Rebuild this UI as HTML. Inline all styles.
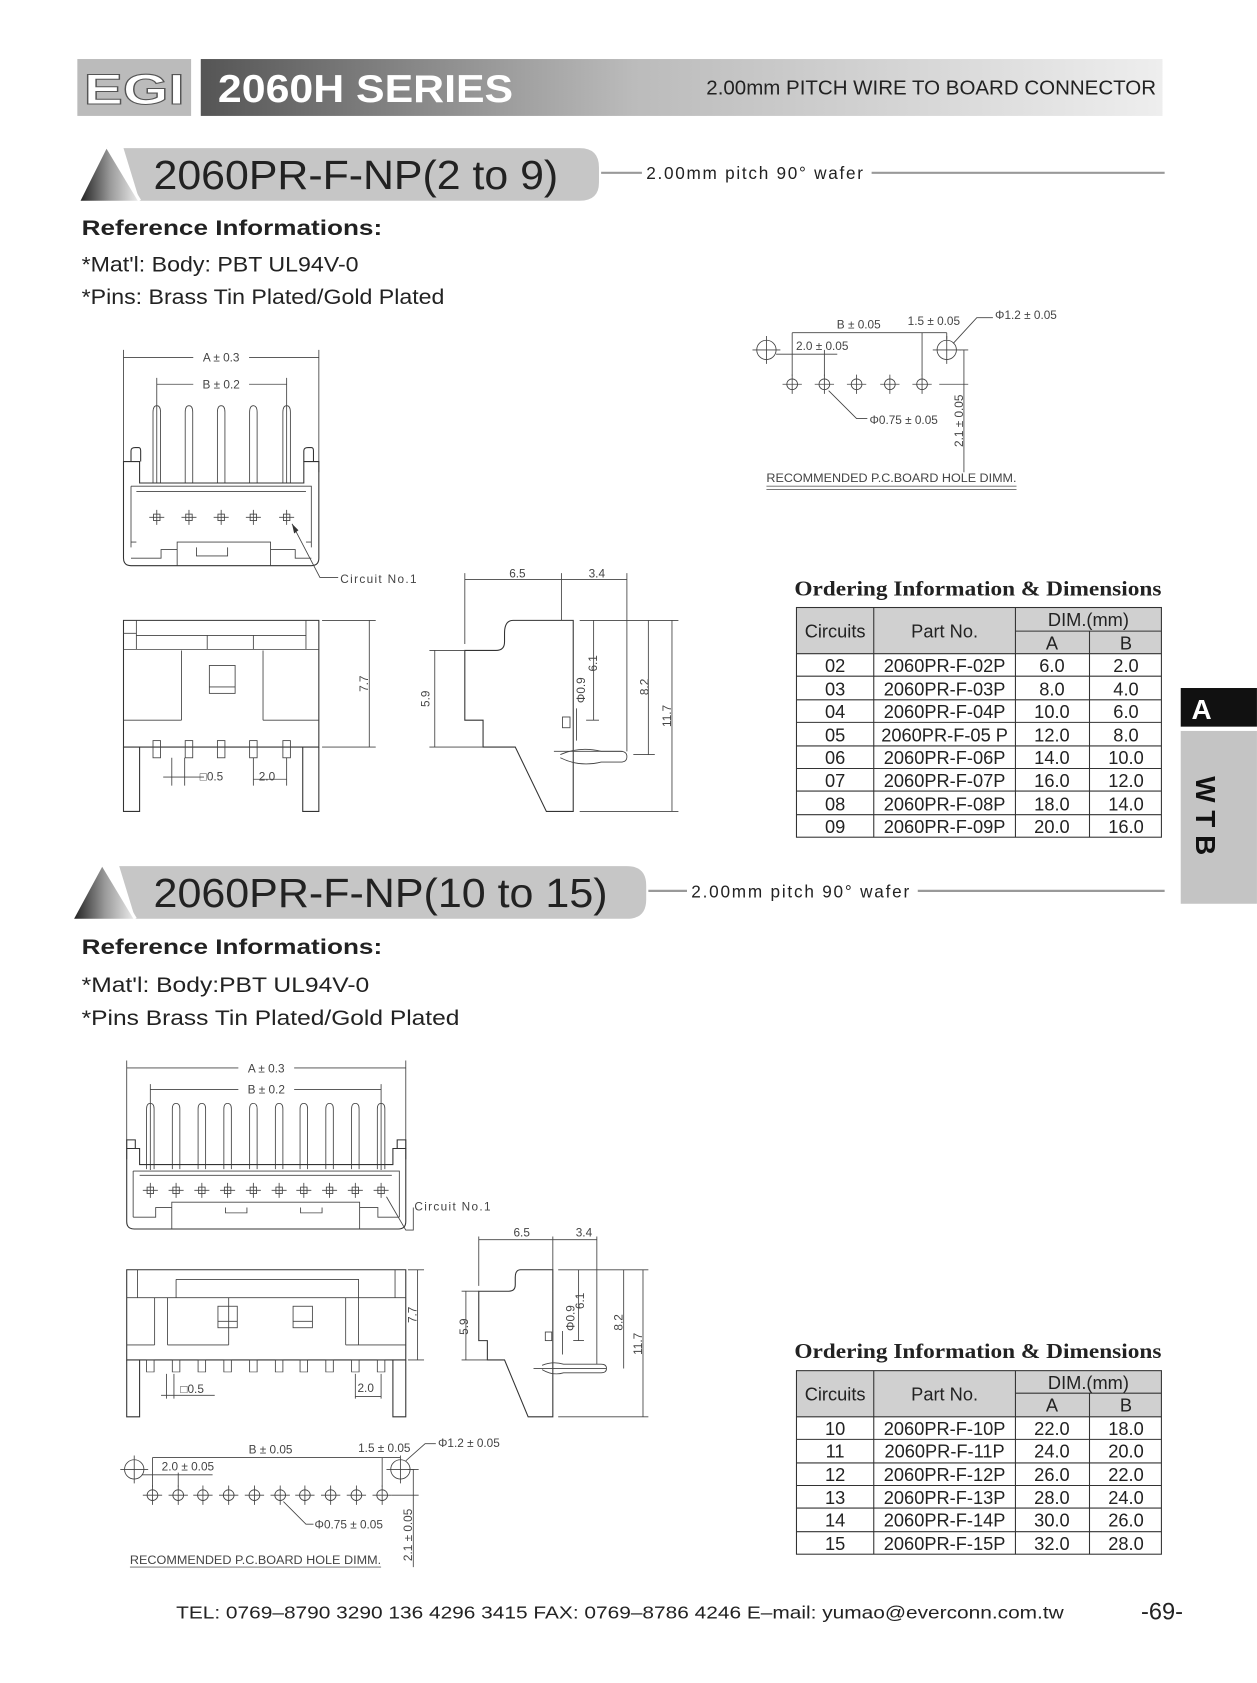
<!DOCTYPE html>
<html><head><meta charset="utf-8"><style>
html,body{margin:0;padding:0;background:#fff}
svg{display:block}
text{font-family:"Liberation Sans",sans-serif;fill:#222}
.s{fill:none;stroke:#333;stroke-width:1}
.t{stroke:#444;stroke-width:.8;fill:none}
.d{font-size:11px;fill:#444}
</style></head><body>
<svg width="1257" height="1683" viewBox="0 0 1171 1568" xmlns="http://www.w3.org/2000/svg">
<defs>
<linearGradient id="g1" x1="0" x2="1"><stop offset="0" stop-color="#555"/><stop offset=".45" stop-color="#bbb"/><stop offset="1" stop-color="#eee"/></linearGradient>
<linearGradient id="g2" x1="0" x2="1"><stop offset="0" stop-color="#222"/><stop offset=".5" stop-color="#999"/><stop offset="1" stop-color="#eee"/></linearGradient>
<g id="h"><circle r="5" class="t"/><path d="M-9 0H9M0 -9V9" class="t"/></g>
<g id="H"><circle r="9" class="t"/><path d="M-13 0H13M0 -13V13" class="t"/></g>
<g id="pm"><rect x="-3" y="-3" width="6" height="6" class="t"/><path d="M-7 0H7M0 -7V7" class="t"/></g>
<g id="pt"><path d="M-3.5 72V6Q-3.5 0 0 0Q3.5 0 3.5 6V72" class="t"/></g>
<g id="pf"><rect x="-3.5" y="0" width="7" height="16" class="t"/></g>
</defs>

<!-- header -->
<rect x="72" y="55" width="106" height="53" fill="#bbb"/>
<text x="78" y="97" font-size="40" font-weight="bold" style="fill:#fff;stroke:#555;stroke-width:1" textLength="94" lengthAdjust="spacingAndGlyphs">EGI</text>
<rect x="187" y="55" width="896" height="53" fill="url(#g1)"/>
<text x="203" y="95" font-size="36" font-weight="bold" style="fill:#fff" textLength="275" lengthAdjust="spacingAndGlyphs">2060H SERIES</text>
<text x="1077" y="88" font-size="19" text-anchor="end" style="fill:#222" textLength="419" lengthAdjust="spacingAndGlyphs">2.00mm PITCH WIRE TO BOARD CONNECTOR</text>

<!-- section 1 title -->
<path d="M75 187L100 137L130 187Z" fill="url(#g2)"/>
<path d="M115 138H540Q558 138 558 156V170Q558 187 540 187H130Z" fill="#c6c6c6"/>
<path d="M100 137L130 187" stroke="#fff" stroke-width="3"/>
<text x="143" y="176" font-size="38" textLength="377" lengthAdjust="spacingAndGlyphs">2060PR-F-NP(2 to 9)</text>
<path d="M560 161H598M812 161H1085" stroke="#999" stroke-width="2"/>
<text x="602" y="167" font-size="16" textLength="202" lengthAdjust="spacing">2.00mm pitch 90° wafer</text>
<text x="76" y="219" font-size="20" font-weight="bold" textLength="280" lengthAdjust="spacingAndGlyphs">Reference Informations:</text>
<text x="76" y="253" font-size="20" textLength="258" lengthAdjust="spacingAndGlyphs">*Mat'l: Body: PBT UL94V-0</text>
<text x="76" y="283" font-size="20" textLength="338" lengthAdjust="spacingAndGlyphs">*Pins: Brass Tin Plated/Gold Plated</text>

<!-- section 1 top view -->
<g>
<path d="M115 326V440M297 326V440M146 352V450M267 352V450" class="t"/>
<path d="M115 333H180M232 333H297M146 358H180M232 358H267" class="t"/>
<text x="206" y="337" class="d" text-anchor="middle">A ± 0.3</text>
<text x="206" y="362" class="d" text-anchor="middle">B ± 0.2</text>
<use href="#pt" x="146" y="378"/><use href="#pt" x="176" y="378"/><use href="#pt" x="206" y="378"/><use href="#pt" x="236" y="378"/><use href="#pt" x="267" y="378"/>
<path d="M122 430V420Q122 417 126 417H129Q131 417 131 420V430M283 430V420Q283 417 287 417H290Q292 417 292 420V430" class="s"/>
<path d="M115 430H130V450H283V430H297V520Q297 527 290 527H122Q115 527 115 520Z" class="s"/>
<path d="M122 453H290V510M122 453V510M127 458H285M122 505H127M290 505H285" class="t"/>
<path d="M122 520H150V512H165V505H252V512H275V520H290M165 505V527M252 505V527M183 510V518H212V510" class="t"/>
<use href="#pm" x="146" y="482"/><use href="#pm" x="176" y="482"/><use href="#pm" x="206" y="482"/><use href="#pm" x="236" y="482"/><use href="#pm" x="267" y="482"/>
<path d="M272 488L298 538H315" class="t"/><path d="M272 488L274 497L278 494Z" fill="#333"/>
<text x="317" y="543" class="d" font-size="12" textLength="71" lengthAdjust="spacing">Circuit No.1</text>
</g>

<!-- section 1 front view -->
<g>
<path d="M115 578H297V696H115Z" class="s"/>
<path d="M115 605H297M127 578V605M285 578V605M115 590L127 590M193 592V605M236 592V605M193 592H236M127 592H193M236 592H285" class="t"/>
<path d="M169 606V671M245 606V671M115 671H169M245 671H297" class="t"/>
<rect x="195" y="620" width="24" height="26" class="t"/><path d="M195 640H219" class="t"/>
<path d="M115 696V756H130V696M282 696V756H297V696" class="s"/>
<use href="#pf" x="146" y="690"/><use href="#pf" x="176" y="690"/><use href="#pf" x="206" y="690"/><use href="#pf" x="236" y="690"/><use href="#pf" x="267" y="690"/>
<path d="M160 706V732M172 706V732M152 724H190M236 706V732M267 706V732M236 726H267" class="t"/>
<text x="186" y="727" class="d" font-size="12">□0.5</text>
<text x="241" y="727" class="d" font-size="12">2.0</text>
<path d="M300 578H350M300 696H350M344 578V696" class="t"/>
<text x="343" y="637" class="d" font-size="12" transform="rotate(-90 343 637)" text-anchor="middle">7.7</text>
</g>

<!-- section 1 side view -->
<g>
<path d="M433 606V671H450V696H480L509 756H534V578H478Q470 578 470 590V598Q470 606 462 606Z" class="s"/>
<path d="M522 703Q540 695 560 700H578Q584 700 584 705Q584 710 578 710H560Q540 715 522 706" class="t"/>
<path d="M516 700H580" class="t"/>
<rect x="524" y="668" width="7" height="10" class="t"/>
<path d="M433 534V600M523 534V578M584 534V700M433 540H584" class="t"/>
<text x="482" y="538" class="d" font-size="12" text-anchor="middle">6.5</text>
<text x="556" y="538" class="d" font-size="12" text-anchor="middle">3.4</text>
<path d="M400 606H433M400 696H450M405 606V696" class="t"/>
<text x="400" y="651" class="d" font-size="12" transform="rotate(-90 400 651)" text-anchor="middle">5.9</text>
<path d="M553 578V671M546 671H558M537 660V690" class="t"/>
<text x="556" y="618" class="d" font-size="12" transform="rotate(-90 556 618)" text-anchor="middle">6.1</text>
<text x="545" y="643" class="d" font-size="12" transform="rotate(-90 545 643)" text-anchor="middle">Φ0.9</text>
<path d="M540 578H632M604 578V703M590 703H610M626 578V756M540 756H632" class="t"/>
<text x="604" y="640" class="d" font-size="12" transform="rotate(-90 604 640)" text-anchor="middle">8.2</text>
<text x="625" y="667" class="d" font-size="12" transform="rotate(-90 625 667)" text-anchor="middle">11.7</text>
</g>

<!-- PCB 1 -->
<g>
<use href="#H" x="714" y="326"/><use href="#H" x="882" y="326"/>
<use href="#h" x="738" y="358"/><use href="#h" x="768" y="358"/><use href="#h" x="798" y="358"/><use href="#h" x="829" y="358"/><use href="#h" x="859" y="358"/>
<path d="M738 310V350M768 326V350M859 310V350M738 310H882M723 330H780M882 310V316" class="t"/>
<text x="800" y="306" class="d" font-size="11.5" text-anchor="middle">B ± 0.05</text>
<text x="870" y="303" class="d" font-size="11.5" text-anchor="middle">1.5 ± 0.05</text>
<text x="766" y="326" class="d" font-size="11.5" text-anchor="middle">2.0 ± 0.05</text>
<path d="M888 320L910 296H925" class="t"/>
<text x="927" y="297" class="d" font-size="11.5">Φ1.2 ± 0.05</text>
<path d="M894 326H902M875 358H902M898 326V440" class="t"/>
<text x="897" y="392" class="d" font-size="11.5" transform="rotate(-90 897 392)" text-anchor="middle">2.1 ± 0.05</text>
<path d="M772 364L798 390H808" class="t"/>
<text x="810" y="395" class="d" font-size="11.5">Φ0.75 ± 0.05</text>
<text x="714" y="449" font-size="11.5" style="fill:#444" textLength="233" lengthAdjust="spacingAndGlyphs">RECOMMENDED P.C.BOARD HOLE DIMM.</text>
<path d="M714 453H947M714 456H947" stroke="#666" stroke-width=".8"/>
</g>

<!-- Table 1 -->
<text x="740" y="555" font-size="20" style="font-family:'Liberation Serif',serif" font-weight="bold" textLength="342" lengthAdjust="spacingAndGlyphs">Ordering Information &amp; Dimensions</text>
<rect x="742" y="566" width="340" height="43" fill="#d0d0d0"/>
<g stroke="#333" stroke-width="1" fill="none">
<rect x="742" y="566" width="340" height="214"/>
<path d="M946 588H1082M742 609H1082M742 630H1082M742 652H1082M742 673H1082M742 695H1082M742 716H1082M742 737H1082M742 759H1082"/>
<path d="M814 566V780M946 566V780M1015 588V780"/>
</g>
<g font-size="17" text-anchor="middle">
<text x="778" y="594">Circuits</text><text x="880" y="594">Part No.</text><text x="1014" y="583">DIM.(mm)</text><text x="980" y="605">A</text><text x="1049" y="605">B</text>
<text x="778" y="626">02</text><text x="880" y="626">2060PR-F-02P</text><text x="980" y="626">6.0</text><text x="1049" y="626">2.0</text>
<text x="778" y="648">03</text><text x="880" y="648">2060PR-F-03P</text><text x="980" y="648">8.0</text><text x="1049" y="648">4.0</text>
<text x="778" y="669">04</text><text x="880" y="669">2060PR-F-04P</text><text x="980" y="669">10.0</text><text x="1049" y="669">6.0</text>
<text x="778" y="691">05</text><text x="880" y="691">2060PR-F-05 P</text><text x="980" y="691">12.0</text><text x="1049" y="691">8.0</text>
<text x="778" y="712">06</text><text x="880" y="712">2060PR-F-06P</text><text x="980" y="712">14.0</text><text x="1049" y="712">10.0</text>
<text x="778" y="733">07</text><text x="880" y="733">2060PR-F-07P</text><text x="980" y="733">16.0</text><text x="1049" y="733">12.0</text>
<text x="778" y="755">08</text><text x="880" y="755">2060PR-F-08P</text><text x="980" y="755">18.0</text><text x="1049" y="755">14.0</text>
<text x="778" y="776">09</text><text x="880" y="776">2060PR-F-09P</text><text x="980" y="776">20.0</text><text x="1049" y="776">16.0</text>
</g>

<!-- side tab -->
<rect x="1100" y="641" width="71" height="36" fill="#111"/>
<text x="1110" y="670" font-size="26" font-weight="bold" style="fill:#fff">A</text>
<rect x="1100" y="681" width="71" height="161" fill="#c4c4c4"/>
<text x="1114" y="760" font-size="26" font-weight="bold" transform="rotate(90 1114 760)" text-anchor="middle" style="fill:#111">W T B</text>

<!-- section 2 title -->
<path d="M69 856L96 806L126 856Z" fill="url(#g2)"/>
<path d="M111 807H584Q602 807 602 825V838Q602 856 584 856H126Z" fill="#c6c6c6"/>
<path d="M96 806L126 856" stroke="#fff" stroke-width="3"/>
<text x="143" y="845" font-size="38" textLength="423" lengthAdjust="spacingAndGlyphs">2060PR-F-NP(10 to 15)</text>
<path d="M604 830H640M855 830H1085" stroke="#999" stroke-width="2"/>
<text x="644" y="836" font-size="16" textLength="203" lengthAdjust="spacing">2.00mm pitch 90° wafer</text>
<text x="76" y="889" font-size="20" font-weight="bold" textLength="280" lengthAdjust="spacingAndGlyphs">Reference Informations:</text>
<text x="76" y="924" font-size="20" textLength="268" lengthAdjust="spacingAndGlyphs">*Mat'l: Body:PBT UL94V-0</text>
<text x="76" y="955" font-size="20" textLength="352" lengthAdjust="spacingAndGlyphs">*Pins Brass Tin Plated/Gold Plated</text>

<!-- section 2 top view -->
<g>
<path d="M118 988V1080M378 988V1080M140 1010V1090M355 1010V1090" class="t"/>
<path d="M118 995H222M274 995H378M140 1015H222M274 1015H355" class="t"/>
<text x="248" y="999" class="d" text-anchor="middle">A ± 0.3</text>
<text x="248" y="1019" class="d" text-anchor="middle">B ± 0.2</text>
<g transform="translate(0,1028) scale(1,0.85)"><use href="#pt" x="140"/><use href="#pt" x="164"/><use href="#pt" x="188"/><use href="#pt" x="212"/><use href="#pt" x="236"/><use href="#pt" x="260"/><use href="#pt" x="283"/><use href="#pt" x="307"/><use href="#pt" x="331"/><use href="#pt" x="355"/></g>
<path d="M118 1070V1062H126V1070M370 1070V1062H378V1070" class="s"/>
<path d="M118 1070H130V1085H366V1070H378V1138Q378 1145 371 1145H125Q118 1145 118 1138Z" class="s"/>
<path d="M124 1091H372V1134M124 1091V1134M130 1095H365" class="t"/>
<path d="M124 1134H145V1125H160V1120H335V1125H352V1134H372M160 1120V1145M335 1120V1145M210 1125V1130H230V1125M280 1125V1130H300V1125" class="t"/>
<use href="#pm" x="140" y="1109"/><use href="#pm" x="164" y="1109"/><use href="#pm" x="188" y="1109"/><use href="#pm" x="212" y="1109"/><use href="#pm" x="236" y="1109"/><use href="#pm" x="260" y="1109"/><use href="#pm" x="283" y="1109"/><use href="#pm" x="307" y="1109"/><use href="#pm" x="331" y="1109"/><use href="#pm" x="355" y="1109"/>
<path d="M360 1115L378 1146H385V1125" class="t"/>
<text x="386" y="1128" class="d" font-size="12" textLength="71" lengthAdjust="spacing">Circuit No.1</text>
</g>

<!-- section 2 front view -->
<g>
<path d="M118 1183H378V1267H118Z" class="s"/>
<path d="M118 1209H378M128 1183V1209M368 1183V1209M164 1192H334V1209M164 1192V1209" class="t"/>
<path d="M144 1209V1253M156 1209V1253M213 1209V1253M322 1209V1253M334 1209V1253M118 1253H144M156 1253H213M322 1253H334M334 1253H378" class="t"/>
<rect x="203" y="1217" width="18" height="20" class="t"/><path d="M203 1231H221" class="t"/>
<rect x="273" y="1217" width="18" height="20" class="t"/><path d="M273 1231H291" class="t"/>
<path d="M118 1267V1320H130V1267M366 1267V1320H378V1267" class="s"/>
<g transform="translate(0,1267) scale(1,.7)"><use href="#pf" x="140"/><use href="#pf" x="164"/><use href="#pf" x="188"/><use href="#pf" x="212"/><use href="#pf" x="236"/><use href="#pf" x="260"/><use href="#pf" x="283"/><use href="#pf" x="307"/><use href="#pf" x="331"/><use href="#pf" x="355"/></g>
<path d="M155 1280V1303M162 1280V1303M150 1300H200M331 1280V1303M355 1280V1303M331 1301H355" class="t"/>
<text x="168" y="1298" class="d" font-size="12">□0.5</text>
<text x="333" y="1297" class="d" font-size="12">2.0</text>
<path d="M380 1183H395M380 1267H395M389 1183V1267" class="t"/>
<text x="388" y="1225" class="d" font-size="12" transform="rotate(-90 388 1225)" text-anchor="middle">7.7</text>
</g>

<!-- section 2 side view -->
<g>
<path d="M446 1203V1249H454V1267H470L492 1320H515V1183H485Q480 1183 480 1190V1197Q480 1203 474 1203Z" class="s"/>
<path d="M505 1272Q515 1268 525 1271H560Q565 1271 565 1275Q565 1279 560 1279H525Q515 1282 505 1276M497 1275H565" class="t"/>
<rect x="508" y="1241" width="6" height="8" class="t"/>
<path d="M446 1152V1198M515 1152V1183M556 1152V1271M446 1155H556" class="t"/>
<text x="486" y="1152" class="d" font-size="12" text-anchor="middle">6.5</text>
<text x="544" y="1152" class="d" font-size="12" text-anchor="middle">3.4</text>
<path d="M430 1203H446M430 1267H454M434 1203V1267" class="t"/>
<text x="436" y="1236" class="d" font-size="12" transform="rotate(-90 436 1236)" text-anchor="middle">5.9</text>
<path d="M539 1183V1249M534 1249H544M524 1240V1262" class="t"/>
<text x="544" y="1212" class="d" font-size="12" transform="rotate(-90 544 1212)" text-anchor="middle">6.1</text>
<text x="535" y="1228" class="d" font-size="12" transform="rotate(-90 535 1228)" text-anchor="middle">Φ0.9</text>
<path d="M520 1183H604M581 1183V1275M599 1183V1320M520 1320H604" class="t"/>
<text x="580" y="1232" class="d" font-size="12" transform="rotate(-90 580 1232)" text-anchor="middle">8.2</text>
<text x="598" y="1252" class="d" font-size="12" transform="rotate(-90 598 1252)" text-anchor="middle">11.7</text>
</g>

<!-- PCB 2 -->
<g>
<use href="#H" x="125" y="1369"/><use href="#H" x="373" y="1369"/>
<use href="#h" x="142" y="1393"/><use href="#h" x="166" y="1393"/><use href="#h" x="189" y="1393"/><use href="#h" x="213" y="1393"/><use href="#h" x="237" y="1393"/><use href="#h" x="261" y="1393"/><use href="#h" x="284" y="1393"/><use href="#h" x="308" y="1393"/><use href="#h" x="332" y="1393"/><use href="#h" x="356" y="1393"/>
<path d="M142 1358V1385M166 1372V1385M356 1358V1385M142 1358H373M132 1374H198" class="t"/>
<text x="252" y="1354" class="d" font-size="11.5" text-anchor="middle">B ± 0.05</text>
<text x="358" y="1353" class="d" font-size="11.5" text-anchor="middle">1.5 ± 0.05</text>
<text x="175" y="1370" class="d" font-size="11.5" text-anchor="middle">2.0 ± 0.05</text>
<path d="M378 1361L396 1345H406" class="t"/>
<text x="408" y="1348" class="d" font-size="11.5">Φ1.2 ± 0.05</text>
<path d="M380 1369H390M365 1393H390M385 1369V1460" class="t"/>
<text x="384" y="1430" class="d" font-size="11.5" transform="rotate(-90 384 1430)" text-anchor="middle">2.1 ± 0.05</text>
<path d="M264 1399L285 1420H292" class="t"/>
<text x="293" y="1424" class="d" font-size="11.5">Φ0.75 ± 0.05</text>
<text x="121" y="1457" font-size="11.5" style="fill:#444" textLength="234" lengthAdjust="spacingAndGlyphs">RECOMMENDED P.C.BOARD HOLE DIMM.</text>
<path d="M121 1460H355" stroke="#666" stroke-width=".8"/>
</g>

<!-- Table 2 -->
<text x="740" y="1265" font-size="20" style="font-family:'Liberation Serif',serif" font-weight="bold" textLength="342" lengthAdjust="spacingAndGlyphs">Ordering Information &amp; Dimensions</text>
<rect x="742" y="1277" width="340" height="43" fill="#d0d0d0"/>
<g stroke="#333" stroke-width="1" fill="none">
<rect x="742" y="1277" width="340" height="171"/>
<path d="M946 1298H1082M742 1320H1082M742 1341H1082M742 1363H1082M742 1384H1082M742 1405H1082M742 1427H1082"/>
<path d="M814 1277V1448M946 1277V1448M1015 1298V1448"/>
</g>
<g font-size="17" text-anchor="middle">
<text x="778" y="1305">Circuits</text><text x="880" y="1305">Part No.</text><text x="1014" y="1294">DIM.(mm)</text><text x="980" y="1315">A</text><text x="1049" y="1315">B</text>
<text x="778" y="1337">10</text><text x="880" y="1337">2060PR-F-10P</text><text x="980" y="1337">22.0</text><text x="1049" y="1337">18.0</text>
<text x="778" y="1358">11</text><text x="880" y="1358">2060PR-F-11P</text><text x="980" y="1358">24.0</text><text x="1049" y="1358">20.0</text>
<text x="778" y="1380">12</text><text x="880" y="1380">2060PR-F-12P</text><text x="980" y="1380">26.0</text><text x="1049" y="1380">22.0</text>
<text x="778" y="1401">13</text><text x="880" y="1401">2060PR-F-13P</text><text x="980" y="1401">28.0</text><text x="1049" y="1401">24.0</text>
<text x="778" y="1422">14</text><text x="880" y="1422">2060PR-F-14P</text><text x="980" y="1422">30.0</text><text x="1049" y="1422">26.0</text>
<text x="778" y="1444">15</text><text x="880" y="1444">2060PR-F-15P</text><text x="980" y="1444">32.0</text><text x="1049" y="1444">28.0</text>
</g>

<!-- footer -->
<text x="164" y="1508" font-size="16" textLength="827" lengthAdjust="spacingAndGlyphs">TEL: 0769–8790 3290  136 4296 3415   FAX: 0769–8786 4246   E–mail: yumao@everconn.com.tw</text>
<text x="1063" y="1509" font-size="22">-69-</text>
</svg>
</body></html>
